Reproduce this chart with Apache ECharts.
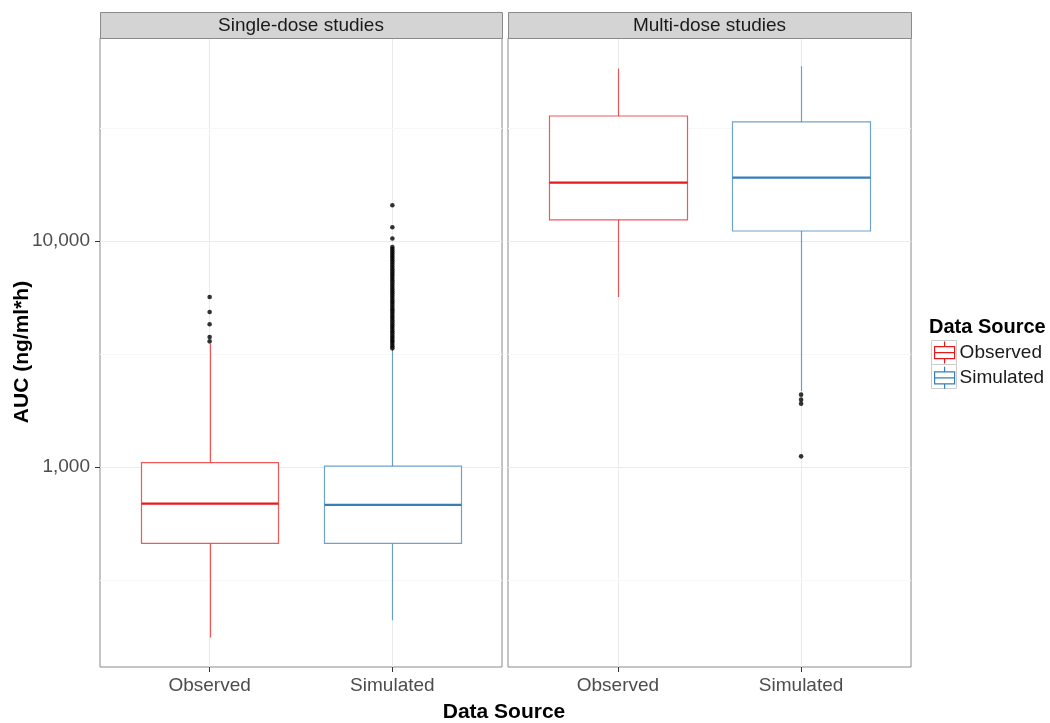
<!DOCTYPE html>
<html>
<head>
<meta charset="utf-8">
<title>AUC by data source</title>
<script src="https://cdn.jsdelivr.net/npm/echarts@6/dist/echarts.min.js"></script>
<style>
  html, body { margin: 0; padding: 0; background: #ffffff; }
  #chart { width: 1050px; height: 723px; }
</style>
</head>
<body>
<div id="chart"></div>
<script>
// ---- data -------------------------------------------------------------
const panels = ['Single-dose studies', 'Multi-dose studies'];
const sources = ['Observed', 'Simulated'];

// box statistics: [lower whisker, Q1, median, Q3, upper whisker]  (ng/ml*h)
const singleObserved  = [176, 459, 689, 1046, 3516];
const singleSimulated = [210, 459, 680, 1010, 3343];
const multiObserved   = [5650, 12390, 18120, 35720, 57940];
const multiSimulated  = [2168, 11070, 19060, 33620, 59300];

// points beyond the whiskers
const singleObservedOutliers = [3597, 3758, 4280, 4850, 5650];
const singleSimulatedOutliers = [
  3350, 3420, 3500, 3580, 3650, 3730, 3810, 3900, 3990, 4080,
  4170, 4260, 4360, 4460, 4560, 4660, 4770, 4880, 4990, 5100,
  5220, 5340, 5460, 5590, 5720, 5850, 5980, 6120, 6260, 6400,
  6550, 6700, 6850, 7010, 7170, 7330, 7500, 7670, 7850, 8030,
  8210, 8400, 8590, 8790, 8990, 9200, 9400, 10260, 11500, 14380
];
const multiObservedOutliers = [];
const multiSimulatedOutliers = [1115, 1907, 1986, 2090];

// axis breaks
const yTicks = [1000, 10000];
const yMinorBreaks = [316.2, 3162.3, 31622.8];
const yRange = [130.4, 79070];
const xRange = [0.4, 2.6];

// ---- styling ----------------------------------------------------------
const FONT = "'Liberation Sans', Arial, Helvetica, sans-serif";
const RED = '#E41A1C';
const BLUE = '#377EB8';
const BOX_HALF = 0.375;
const GRID_COLOR = '#ebebeb';
const MINOR_COLOR = '#f7f7f7';
const BORDER = '#8a8a8a';

const gridRects = [
  { left: 100, top: 38, width: 402, height: 629 },
  { left: 508, top: 38, width: 403, height: 629 }
];

const boxStats = [
  [singleObserved, singleSimulated],
  [multiObserved, multiSimulated]
];
const outliers = [
  [singleObservedOutliers, singleSimulatedOutliers],
  [multiObservedOutliers, multiSimulatedOutliers]
];
const colors = [RED, BLUE];

// ---- renderers --------------------------------------------------------
function boxRenderer(color) {
  return function (params, api) {
    const x = api.value(0);
    const cx = Math.round(api.coord([x, 1000])[0]) + 0.5;
    const left = Math.round(api.coord([x - BOX_HALF, 1000])[0]) + 0.5;
    const right = Math.round(api.coord([x + BOX_HALF, 1000])[0]) + 0.5;
    const y = (i) => api.coord([x, api.value(i)])[1];
    const yLo = y(1), yQ1 = y(2), yMed = y(3), yQ3 = y(4), yHi = y(5);
    const edge = { stroke: color, lineWidth: 1.2, strokeOpacity: 0.72 };
    return {
      type: 'group',
      children: [
        { type: 'line', shape: { x1: cx, y1: yHi, x2: cx, y2: yQ3 }, style: edge },
        { type: 'line', shape: { x1: cx, y1: yQ1, x2: cx, y2: yLo }, style: edge },
        {
          type: 'rect',
          shape: { x: left, y: yQ3, width: right - left, height: yQ1 - yQ3 },
          style: { fill: '#ffffff', stroke: color, lineWidth: 1.2, strokeOpacity: 0.72 }
        },
        { type: 'line', shape: { x1: left, y1: yMed, x2: right, y2: yMed },
          style: { stroke: color, lineWidth: 2.2 } }
      ]
    };
  };
}

function minorGridRenderer(params, api) {
  const cs = params.coordSys;
  const yy = Math.round(api.coord([api.value(0), api.value(1)])[1]) + 0.5;
  return {
    type: 'line',
    shape: { x1: cs.x, y1: yy, x2: cs.x + cs.width, y2: yy },
    style: { stroke: MINOR_COLOR, lineWidth: 1 }
  };
}

// ---- option -----------------------------------------------------------
const grid = gridRects.map(r => Object.assign({ show: true, borderColor: BORDER, borderWidth: 1, backgroundColor: '#ffffff' }, r));

const xAxis = gridRects.map((r, i) => ({
  type: 'value',
  gridIndex: i,
  min: xRange[0],
  max: xRange[1],
  axisLine: { show: false },
  axisTick: { show: true, customValues: [1, 2], length: 5, lineStyle: { color: '#333333', width: 1 } },
  axisLabel: {
    customValues: [1, 2],
    formatter: v => sources[Math.round(v) - 1],
    margin: 9,
    fontSize: 19,
    fontFamily: FONT,
    color: '#4d4d4d'
  },
  splitLine: { show: true, lineStyle: { color: GRID_COLOR, width: 1 } }
}));

const yAxis = gridRects.map((r, i) => ({
  type: 'log',
  logBase: 10,
  gridIndex: i,
  min: yRange[0],
  max: yRange[1],
  axisLine: { show: false },
  axisTick: { show: i === 0, customValues: yTicks, length: 5, lineStyle: { color: '#333333', width: 1 } },
  axisLabel: {
    show: i === 0,
    customValues: yTicks,
    formatter: v => Number(v).toLocaleString('en-US'),
    margin: 10,
    fontSize: 19,
    fontFamily: FONT,
    color: '#4d4d4d'
  },
  splitLine: { show: true, lineStyle: { color: GRID_COLOR, width: 1 } }
}));

const series = [];
gridRects.forEach((r, g) => {
  series.push({
    type: 'custom',
    name: 'minor grid ' + g,
    xAxisIndex: g,
    yAxisIndex: g,
    silent: true,
    z: 1,
    data: yMinorBreaks.map(v => [1, v]),
    encode: { x: 0, y: 1 },
    renderItem: minorGridRenderer
  });
  sources.forEach((src, k) => {
    series.push({
      type: 'custom',
      name: src,
      xAxisIndex: g,
      yAxisIndex: g,
      z: 3,
      itemStyle: { color: colors[k] },
      data: [[k + 1].concat(boxStats[g][k])],
      encode: { x: 0, y: [1, 2, 3, 4, 5] },
      renderItem: boxRenderer(colors[k])
    });
    series.push({
      type: 'scatter',
      name: src + ' outliers ' + g,
      xAxisIndex: g,
      yAxisIndex: g,
      z: 4,
      symbol: 'circle',
      symbolSize: 4.6,
      itemStyle: { color: '#000000' },
      data: outliers[g][k].map(v => [k + 1, v])
    });
  });
});

const keyIcon = 'path://M12.5,1L12.5,6M2.5,6L22.5,6L22.5,18L2.5,18ZM2.5,12L22.5,12M12.5,18L12.5,23';

const graphic = [];
gridRects.forEach((r, g) => {
  graphic.push({
    type: 'rect',
    shape: { x: r.left + 0.5, y: 12.5, width: r.width, height: 26 },
    style: { fill: '#d4d4d4', stroke: BORDER, lineWidth: 1 },
    z: 5
  });
  graphic.push({
    type: 'text',
    x: r.left + r.width / 2,
    y: 26,
    style: { text: panels[g], font: '19px ' + FONT, fill: '#1a1a1a', textAlign: 'center', textVerticalAlign: 'middle' },
    z: 6
  });
});
// legend key backgrounds
[340, 364].forEach(top => {
  graphic.push({
    type: 'rect',
    shape: { x: 931.5, y: top + 0.5, width: 25, height: 24 },
    style: { fill: '#ffffff', stroke: '#cccccc', lineWidth: 1 },
    z: 1
  });
});
graphic.push({
  type: 'text', x: 929, y: 327,
  style: { text: 'Data Source', font: 'bold 20px ' + FONT, fill: '#000000', textAlign: 'left', textVerticalAlign: 'middle' }
});
graphic.push({
  type: 'text', x: 504, y: 712,
  style: { text: 'Data Source', font: 'bold 21px ' + FONT, fill: '#000000', textAlign: 'center', textVerticalAlign: 'middle' }
});
graphic.push({
  type: 'text', x: 22, y: 352, rotation: Math.PI / 2,
  style: { text: 'AUC (ng/ml*h)', font: 'bold 21px ' + FONT, fill: '#000000', textAlign: 'center', textVerticalAlign: 'middle' }
});

const option = {
  animation: false,
  backgroundColor: '#ffffff',
  grid: grid,
  xAxis: xAxis,
  yAxis: yAxis,
  series: series,
  legend: {
    orient: 'vertical',
    left: 934,
    top: 341,
    itemWidth: 20,
    itemHeight: 22,
    itemGap: 2,
    padding: 0,
    selectedMode: false,
    icon: keyIcon,
    textStyle: { fontSize: 19, fontFamily: FONT, color: '#1a1a1a' },
    data: sources.map((s, k) => ({
      name: s,
      itemStyle: { color: 'transparent', borderColor: colors[k], borderWidth: 1.2 }
    }))
  },
  graphic: graphic
};

const chart = echarts.init(document.getElementById('chart'), null, { renderer: 'canvas' });
chart.setOption(option);
</script>
</body>
</html>
